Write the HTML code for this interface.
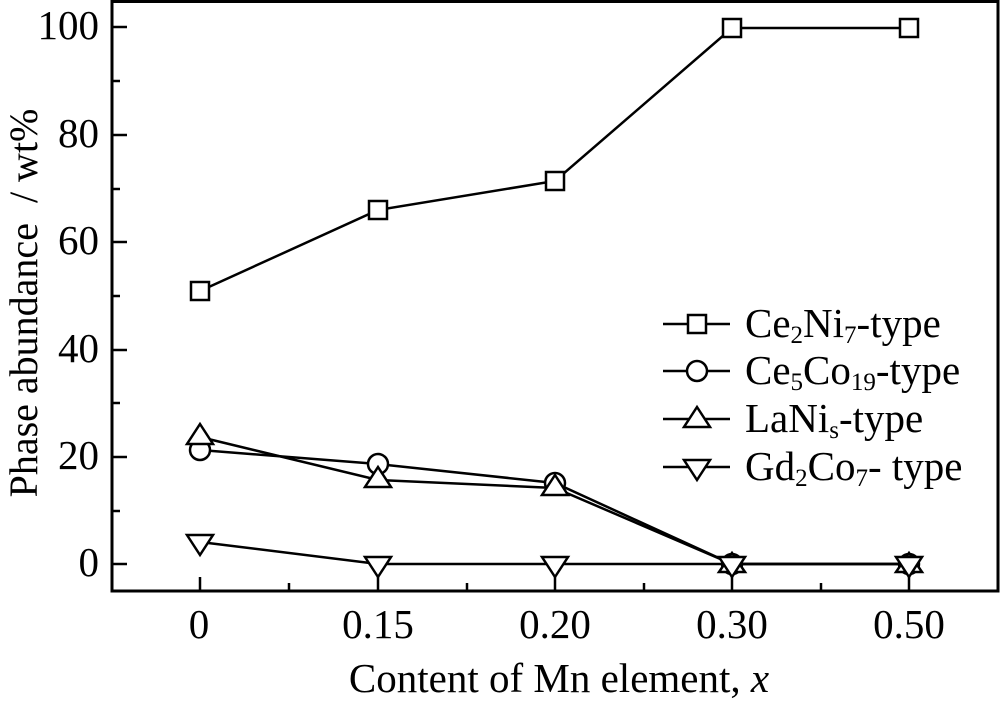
<!DOCTYPE html>
<html><head><meta charset="utf-8"><style>
html,body{margin:0;padding:0;background:#fff}
svg text{font-family:"Liberation Serif",serif;fill:#000}
</style></head><body>
<svg width="1000" height="701" viewBox="0 0 1000 701" xmlns="http://www.w3.org/2000/svg">
<rect x="112" y="1.5" width="886" height="589.5" fill="none" stroke="#000" stroke-width="3"/>
<g stroke="#000" stroke-width="2.5">
<line x1="112" y1="27" x2="127" y2="27"/><line x1="112" y1="81" x2="120" y2="81"/>
<line x1="112" y1="135" x2="127" y2="135"/><line x1="112" y1="189" x2="120" y2="189"/>
<line x1="112" y1="242" x2="127" y2="242"/><line x1="112" y1="296" x2="120" y2="296"/>
<line x1="112" y1="350" x2="127" y2="350"/><line x1="112" y1="403" x2="120" y2="403"/>
<line x1="112" y1="457" x2="127" y2="457"/><line x1="112" y1="511" x2="120" y2="511"/>
<line x1="112" y1="564" x2="127" y2="564"/>
<line x1="200" y1="591" x2="200" y2="577"/><line x1="289" y1="591" x2="289" y2="583"/>
<line x1="378" y1="591" x2="378" y2="577"/><line x1="467" y1="591" x2="467" y2="583"/>
<line x1="555" y1="591" x2="555" y2="577"/><line x1="644" y1="591" x2="644" y2="583"/>
<line x1="732" y1="591" x2="732" y2="577"/><line x1="821" y1="591" x2="821" y2="583"/>
<line x1="909" y1="591" x2="909" y2="577"/>
</g>
<g font-size="41" text-anchor="end">
<text x="99" y="39">100</text><text x="99" y="147">80</text><text x="99" y="254">60</text>
<text x="99" y="362">40</text><text x="99" y="469">20</text><text x="99" y="576">0</text>
</g>
<g font-size="41" text-anchor="middle">
<text x="199" y="638">0</text><text x="378" y="638">0.15</text><text x="555" y="638">0.20</text>
<text x="732" y="638">0.30</text><text x="909" y="638">0.50</text>
<text x="559" y="692">Content of Mn element, <tspan font-style="italic">x</tspan></text>
<text transform="translate(37,303) rotate(-90)" font-size="40" xml:space="preserve">Phase abundance  / wt%</text>
</g>
<g fill="none" stroke="#000" stroke-width="2.5">
<polyline points="200,291 378,210 555,181 732,28 909,28"/>
<polyline points="200,450 378,464 555,483 732,564 909,564"/>
<polyline points="200,437 378,480 555,488 732,564 909,564"/>
<polyline points="200,542 378,564 555,564 732,564 909,564"/>
<line x1="663" y1="324" x2="730" y2="324"/><line x1="663" y1="371" x2="730" y2="371"/>
<line x1="663" y1="419" x2="730" y2="419"/><line x1="663" y1="467" x2="730" y2="467"/>
</g>
<g fill="#fff" stroke="#000" stroke-width="2.5">
<rect x="191" y="282" width="18" height="18"/><rect x="369" y="201" width="18" height="18"/>
<rect x="546" y="172" width="18" height="18"/><rect x="723" y="19" width="18" height="18"/>
<rect x="900" y="19" width="18" height="18"/><rect x="688" y="315" width="18" height="18"/>
<circle cx="200" cy="450" r="10"/><circle cx="378" cy="464" r="10"/><circle cx="555" cy="483" r="10"/>
<circle cx="732" cy="564" r="10"/><circle cx="909" cy="564" r="10"/><circle cx="697" cy="371" r="10"/>
<path d="M200,424 L213,444 L187,444Z"/><path d="M378,467 L391,487 L365,487Z"/><path d="M555,475 L568,495 L542,495Z"/>
<path d="M732,553 L745,572 L719,572Z"/><path d="M909,553 L922,572 L896,572Z"/><path d="M697,407 L710,427 L684,427Z"/>
<path d="M200,555 L213,535 L187,535Z"/><path d="M378,577 L391,557 L365,557Z"/><path d="M555,577 L568,557 L542,557Z"/>
<path d="M732,577 L745,557 L719,557Z"/><path d="M909,577 L922,557 L896,557Z"/><path d="M697,480 L710,460 L684,460Z"/>
</g>
<g font-size="41">
<text x="745" y="337">Ce<tspan font-size="25" dy="6">2</tspan><tspan dy="-6">Ni</tspan><tspan font-size="25" dy="6">7</tspan><tspan dy="-6">-type</tspan></text>
<text x="745" y="384">Ce<tspan font-size="25" dy="6">5</tspan><tspan dy="-6">Co</tspan><tspan font-size="25" dy="6">19</tspan><tspan dy="-6">-type</tspan></text>
<text x="745" y="432">LaNi<tspan font-size="25" dy="6">s</tspan><tspan dy="-6">-type</tspan></text>
<text x="745" y="480">Gd<tspan font-size="25" dy="6">2</tspan><tspan dy="-6">Co</tspan><tspan font-size="25" dy="6">7</tspan><tspan dy="-6">- type</tspan></text>
</g>
</svg>
</body></html>
